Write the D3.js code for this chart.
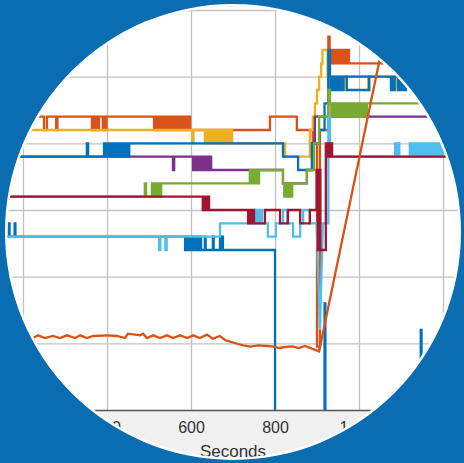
<!DOCTYPE html>
<html lang="en">
<head>
<meta charset="UTF-8">
<title>Sensor levels</title>
<script src="https://cdnjs.cloudflare.com/ajax/libs/d3/7.8.5/d3.min.js"></script>
<style>
    html, body { margin: 0; padding: 0; background: #0b6db1; }
    svg { display: block; }
    .tick text { font-family: "Liberation Sans", Arial, sans-serif; }
</style>
</head>
<body>
<svg id="chart" width="464" height="463"></svg>
<script>
// x ticks (seconds) and y grid levels
const xTicks = [200, 400, 600, 800, 1000, 1200];
const yTicks = [1, 2, 3, 4, 5, 6];

// step signals, [seconds, level]
const orangeTop = [[100,4.4],[250,4.2],[257,4.4],[279,4.2],[282,4.4],
    [364,4.2],[366,4.4],[368,4.2],[370,4.4],[371,4.2],[373,4.4],[375,4.2],[377,4.4],[379,4.2],[381,4.4],
    [390,4.2],[392,4.4],[397,4.2],[399,4.4],
    [512,4.2],[514,4.4],[517,4.2],[519,4.4],[522,4.2],[523,4.4],[527,4.2],[530,4.4],[533,4.2],[535,4.4],
    [538,4.2],[540,4.4],[543,4.2],[546,4.4],[548,4.2],[551,4.4],[554,4.2],[556,4.4],[559,4.2],[562,4.4],
    [565,4.2],[567,4.4],[570,4.2],[573,4.4],[576,4.2],[578,4.4],[581,4.2],[584,4.4],[587,4.2],[590,4.4],
    [592,4.2],[595,4.4],[598,4.2],
    [788,4.4],[852,4.2],[890,4.0],[900,0.95],[907,4.2],[927,5.6],[930,5.4],
    [933,5.2],[935,5.4],[938,5.2],[940,5.4],[943,5.2],[946,5.4],[949,5.2],[951,5.4],[954,5.2],[957,5.4],
    [960,5.2],[962,5.4],[965,5.2],[968,5.4],[971,5.2],[973,5.4],[976,5.2],[1060,5.2]];

const yellow = [[100,4.2],[603,4.0],[606,4.2],
    [633,4.0],[636,4.2],[638,4.0],[641,4.2],[644,4.0],[646,4.2],[649,4.0],[652,4.2],[655,4.0],[657,4.2],
    [660,4.0],[663,4.2],[666,4.0],[668,4.2],[671,4.0],[674,4.2],[677,4.0],[679,4.2],[682,4.0],[685,4.2],
    [688,4.0],[690,4.2],[693,4.0],[696,4.2],[698,4.0],
    [824,3.8],[883,4.2],[890,4.4],[895,4.6],[900,4.8],[905,5.0],[910,5.2],[913,5.4],[925,5.0],
    [965,4.8],[968,5.0],[1022,4.8],[1025,5.0],[1088,4.8],[1091,5.0],[1120,5.0]];

const purple = [[100,3.8],[557,3.6],[560,3.8],
    [605,3.6],[607,3.8],[610,3.6],[613,3.8],[616,3.6],[618,3.8],[621,3.6],[624,3.8],[627,3.6],[629,3.8],
    [632,3.6],[635,3.8],[638,3.6],[640,3.8],[643,3.6],[646,3.8],[648,3.6],
    [819,3.4],[876,3.6],[888,4.0],[895,4.4],[1220,4.4]];

const blueUpper = [[100,3.8],[352,4.0],[355,3.8],
    [393,4.0],[396,3.8],[398,4.0],[401,3.8],[404,4.0],[406,3.8],[409,4.0],[412,3.8],[415,4.0],[417,3.8],
    [420,4.0],[423,3.8],[426,4.0],[428,3.8],[431,4.0],[434,3.8],[437,4.0],[439,3.8],[442,4.0],[445,3.8],
    [448,4.0],[450,3.8],[453,4.0],
    [819,3.8],[855,3.6],[888,4.0],[905,4.2],[918,4.6],[927,5.4],[931,5.0],
    [933,4.8],[936,5.0],[938,4.8],[941,5.0],[944,4.8],[946,5.0],[949,4.8],[952,5.0],[955,4.8],[957,5.0],
    [960,4.8],[963,5.0],
    [1076,4.8],[1079,5.0],[1082,4.8],[1085,5.0],[1093,4.8],[1096,5.0],[1098,4.8],[1101,5.0],[1104,4.8],
    [1107,5.0],[1110,4.8],[1112,5.0],[1150,5.0]];

const blueTop = [[967,5.0],[971,4.8],[1024,5.0],[1030,5.0]];

const green = [[100,3.2],[490,3.4],[493,3.2],
    [507,3.4],[509,3.2],[512,3.4],[515,3.2],[518,3.4],[520,3.2],[523,3.4],[526,3.2],[529,3.4],
    [740,3.6],[743,3.4],[745,3.6],[748,3.4],[751,3.6],[754,3.4],[757,3.6],[759,3.4],[762,3.6],
    [819,3.4],[822,3.2],[824,3.4],[827,3.2],[830,3.4],[833,3.2],[836,3.4],[838,3.2],[841,3.4],
    [876,3.6],[893,4.0],[905,4.4],[927,4.8],[931,4.6],
    [934,4.4],[936,4.6],[939,4.4],[941,4.6],[944,4.4],[947,4.6],[950,4.4],[952,4.6],[955,4.4],[958,4.6],
    [961,4.4],[963,4.6],[966,4.4],[969,4.6],[972,4.4],[974,4.6],[977,4.4],[980,4.6],[983,4.4],[985,4.6],
    [988,4.4],[991,4.6],[994,4.4],[996,4.6],[999,4.4],[1002,4.6],[1005,4.4],[1007,4.6],[1010,4.4],
    [1013,4.6],[1016,4.4],[1019,4.6],[1160,4.6]];

const blueLower = [[100,2.6],[166,2.8],[168,2.6],[180,2.8],[182,2.6],
    [586,2.4],[588,2.6],[591,2.4],[594,2.6],[596,2.4],[599,2.6],[602,2.4],[605,2.6],[607,2.4],[610,2.6],
    [613,2.4],[616,2.6],[618,2.4],[621,2.6],[624,2.4],
    [633,2.6],[635,2.4],[652,2.6],[654,2.4],[669,2.6],[671,2.4],[674,2.6],[676,2.4],
    [800,-1],[918,1.6],[920,-1],[1147,1.2],[1149,-1],[1250,-1]];

const lightBlue = [[100,2.6],[524,2.4],[527,2.6],[539,2.4],[542,2.6],[669,2.8],
    [752,3.0],[754,2.8],[757,3.0],[760,2.8],[762,3.0],[765,2.8],[767,3.0],[769,2.8],
    [783,2.6],[802,2.8],[819,3.0],[829,2.8],[843,2.6],[860,2.8],[867,3.0],[883,2.8],
    [927,4.4],[931,3.8],
    [1086,4.0],[1088,3.8],[1093,4.0],[1096,3.8],
    [1121,4.0],[1124,3.8],[1126,4.0],[1129,3.8],[1132,4.0],[1134,3.8],[1137,4.0],[1140,3.8],[1143,4.0],
    [1145,3.8],[1148,4.0],[1151,3.8],[1154,4.0],[1156,3.8],[1159,4.0],[1162,3.8],[1165,4.0],[1167,3.8],
    [1170,4.0],[1173,3.8],[1176,4.0],[1178,3.8],[1181,4.0],[1184,3.8],[1187,4.0],[1189,3.8],[1192,4.0],
    [1195,3.8],[1198,4.0],[1200,3.8],[1210,3.8]];

// the sharp dip of the light blue signal (linear)
const lightBlueDip = [[899,2.8],[907,1.2],[914,2.8]];

const red = [[100,3.2],[628,3.0],[631,3.2],[633,3.0],[636,3.2],[638,3.0],[640,3.2],[643,3.0],
    [736,2.8],[738,3.0],[741,2.8],[743,3.0],[746,2.8],[748,3.0],[750,2.8],
    [776,3.0],[812,2.8],[831,3.0],[860,2.8],[883,3.0],
    [899,3.6],[902,2.4],[905,3.6],[908,2.4],[921,4.0],[924,3.8],[926,4.0],[929,3.8],
    [931,4.0],[936,3.8],[1210,3.8]];

// analog trace (linear)
const orangeLow = [[224,1.08],[236,1.12],[252,1.08],[271,1.11],[288,1.08],[305,1.12],[324,1.08],[336,1.12],
    [352,1.08],[367,1.11],[400,1.12],[424,1.11],[443,1.08],[450,1.145],[479,1.12],[486,1.145],[495,1.08],
    [510,1.12],[526,1.08],[543,1.12],[557,1.08],[574,1.12],[591,1.08],[605,1.12],[621,1.08],[638,1.13],
    [652,1.07],[669,1.11],[681,1.05],[693,1.025],[712,0.99],[724,0.97],[741,0.95],[760,0.97],[781,0.96],
    [793,0.955],[810,0.93],[824,0.945],[841,0.955],[857,0.93],[871,0.96],[888,0.92],[905,0.88],[1050,5.28]];

const W = 464, H = 463;
const svg = d3.select("#chart");
svg.append("rect").attr("width", W).attr("height", H).attr("fill", "#0b6db1");

const cx = 233, cy = 232, R = 228;
svg.append("circle").attr("cx", cx).attr("cy", cy).attr("r", R).attr("fill", "#fff");

const defs = svg.append("defs");
defs.append("clipPath").attr("id", "lens")
    .append("circle").attr("cx", cx).attr("cy", cy).attr("r", R - 2.5);
defs.append("clipPath").attr("id", "plotArea")
    .append("rect").attr("x", -60).attr("y", -60).attr("width", 600).attr("height", 470);

const lens = svg.append("g").attr("clip-path", "url(#lens)");
lens.append("rect").attr("width", W).attr("height", H).attr("fill", "#f0f0f0");
lens.append("rect").attr("x", -60).attr("y", -60).attr("width", 600).attr("height", 470).attr("fill", "#fff");

const x = d3.scaleLinear().domain([200, 1200]).range([23, 443]);
const y = d3.scaleLinear().domain([0, 6]).range([410, 10]);

// grid
lens.append("g")
    .attr("transform", "translate(0,410)")
    .call(d3.axisBottom(x).tickValues(xTicks).tickSize(-480).tickFormat(""))
    .call(g => g.select(".domain").remove())
    .call(g => g.selectAll("line").attr("stroke", "#c2c2c2").attr("stroke-width", 1.3));
lens.append("g")
    .attr("transform", "translate(-60,0)")
    .call(d3.axisLeft(y).tickValues(yTicks).tickSize(-600).tickFormat(""))
    .call(g => g.select(".domain").remove())
    .call(g => g.selectAll("line").attr("stroke", "#c2c2c2").attr("stroke-width", 1.3));

// series
const plot = lens.append("g").attr("clip-path", "url(#plotArea)");
const step = d3.line().x(d => x(d[0])).y(d => y(d[1])).curve(d3.curveStepAfter);
const straight = d3.line().x(d => x(d[0])).y(d => y(d[1]));

const layers = [
    [orangeTop, "#D95319", step],
    [yellow, "#EDB120", step],
    [purple, "#7E2F8E", step],
    [blueUpper, "#0072BD", step],
    [blueTop, "#0072BD", step],
    [green, "#77AC30", step],
    [blueLower, "#0072BD", step],
    [lightBlue, "#4DBEEE", step],
    [lightBlueDip, "#4DBEEE", straight],
    [red, "#A2142F", step],
    [orangeLow, "#D95319", straight]
];
layers.forEach(([data, color, gen]) => {
    plot.append("path")
        .attr("d", gen(data))
        .attr("fill", "none")
        .attr("stroke", color)
        .attr("stroke-width", 2.3);
});

// x axis
const xAxis = lens.append("g")
    .attr("transform", "translate(0,410)")
    .call(d3.axisBottom(x).tickValues(xTicks).tickSize(0).tickPadding(11.6));
xAxis.select(".domain").attr("stroke", "#555").attr("stroke-width", 1.3);
xAxis.selectAll("text").attr("font-size", 16).attr("fill", "#333");

lens.append("text")
    .attr("x", 233).attr("y", 457)
    .attr("text-anchor", "middle")
    .attr("font-family", "Liberation Sans, Arial, sans-serif")
    .attr("font-size", 17)
    .attr("fill", "#333")
    .text("Seconds");
</script>
</body>
</html>
